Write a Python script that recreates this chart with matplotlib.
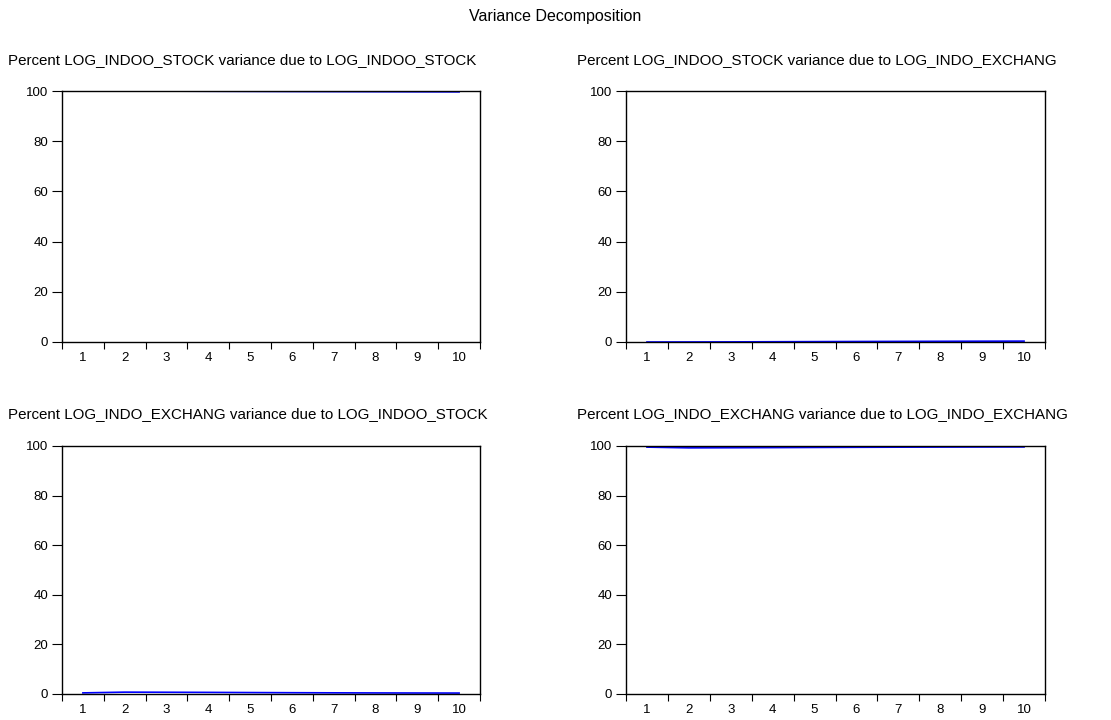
import matplotlib
matplotlib.use('Agg')
import matplotlib.pyplot as plt
from matplotlib import font_manager
import numpy as np

plt.rcParams['font.family'] = ['Liberation Sans', 'DejaVu Sans']

# Periods and variance shares (percent)
periods = np.arange(1, 11)
stock_due_stock = [100.0, 99.98, 99.95, 99.9, 99.85, 99.8, 99.76, 99.72, 99.68, 99.65]
stock_due_exch = [0.0, 0.02, 0.05, 0.1, 0.15, 0.2, 0.24, 0.28, 0.32, 0.35]
exch_due_stock = [0.45, 0.75, 0.7, 0.65, 0.58, 0.52, 0.47, 0.43, 0.4, 0.38]
exch_due_exch = [99.55, 99.25, 99.3, 99.35, 99.42, 99.48, 99.53, 99.57, 99.6, 99.62]

titles = [
    'Percent LOG_INDOO_STOCK variance due to LOG_INDOO_STOCK',
    'Percent LOG_INDOO_STOCK variance due to LOG_INDO_EXCHANG',
    'Percent LOG_INDO_EXCHANG variance due to LOG_INDOO_STOCK',
    'Percent LOG_INDO_EXCHANG variance due to LOG_INDO_EXCHANG',
]
series = [stock_due_stock, stock_due_exch, exch_due_stock, exch_due_exch]

W, H = 1111, 720
fig = plt.figure(figsize=(W / 100, H / 100), dpi=100)

# panel boxes in pixels: left, top, right, bottom
boxes = [(62, 91, 480, 342), (626, 91, 1045, 342),
         (62, 446, 480, 694), (626, 446, 1045, 694)]
title_pos = [(8, 60), (577, 60), (8, 414), (577, 414)]

for (l, t, r, b), (tx, ty), title, vals in zip(boxes, title_pos, titles, series):
    ax = fig.add_axes([l / W, 1 - b / H, (r - l) / W, (b - t) / H])
    ax.plot(periods, vals, color='#0000ff', lw=1.2)
    ax.set_xlim(0.5, 10.5)
    ax.set_ylim(0, 100)
    ax.set_yticks([0, 20, 40, 60, 80, 100])
    # ticks sit between periods, labels centred on each period
    ax.set_xticks(np.arange(0.5, 11, 1.0))
    ax.set_xticklabels([])
    ax.set_xticks(periods, minor=True)
    ax.set_xticklabels([str(p) for p in periods], minor=True)
    ax.tick_params(axis='x', which='major', direction='out', length=5, width=0.8)
    ax.tick_params(axis='x', which='minor', length=0, pad=7, labelsize=9.5)
    ax.tick_params(axis='y', direction='out', length=7, width=0.8, labelsize=9.5, pad=3)
    for s in ax.spines.values():
        s.set_linewidth(1.0)
    fig.text(tx / W, 1 - ty / H, title, fontsize=10.9, ha='left', va='center')

# narrow face for the overall heading if available
names = {f.name for f in font_manager.fontManager.ttflist}
head_family = ['Liberation Sans Narrow'] if 'Liberation Sans Narrow' in names else ['Liberation Sans']
fig.text(555 / W, 1 - 17 / H, 'Variance Decomposition', fontsize=11.5,
         ha='center', va='center', family=head_family)

fig.savefig('out.png', dpi=100, facecolor='white')
